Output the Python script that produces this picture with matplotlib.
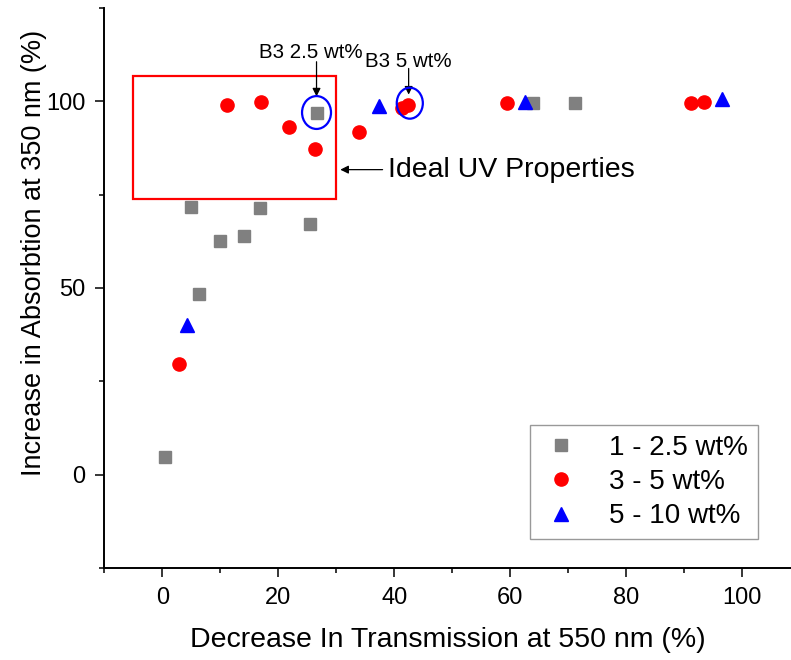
import matplotlib
matplotlib.use("Agg")
import matplotlib.pyplot as plt
from matplotlib.patches import Rectangle, Ellipse
from matplotlib.ticker import MultipleLocator

plt.rcParams["font.family"] = ["Liberation Sans", "DejaVu Sans"]

# 1 - 2.5 wt%
low_x = [0.4, 5.0, 6.3, 9.9, 14.0, 16.8, 25.4, 26.6, 64.0, 71.2]
low_y = [4.6, 71.8, 48.5, 62.7, 63.8, 71.5, 67.2, 96.9, 99.6, 99.6]

# 3 - 5 wt%
mid_x = [2.9, 11.1, 17.0, 21.9, 26.4, 34.0, 41.3, 42.4, 59.4, 91.2, 93.5]
mid_y = [29.7, 98.9, 99.8, 93.0, 87.3, 91.7, 98.3, 99.1, 99.6, 99.6, 99.9]

# 5 - 10 wt%
high_x = [4.2, 37.4, 62.6, 96.6]
high_y = [40.2, 98.8, 99.7, 100.5]

fig = plt.figure(figsize=(7.91, 6.6), dpi=100)
ax = fig.add_axes([0.1321, 0.1394, 0.8679, 0.8485])

ax.plot(low_x, low_y, "s", color="#808080", markersize=8.5, label="1 - 2.5 wt%", zorder=3)
ax.plot(mid_x, mid_y, "o", color="#ff0000", markersize=9.5, label="3 - 5 wt%", zorder=3)
ax.plot(high_x, high_y, "^", color="#0000ff", markersize=10, label="5 - 10 wt%", zorder=3)

# ideal region box
ax.add_patch(Rectangle((-5.1, 73.9), 35.1, 33.0, fill=False, edgecolor="#ff0000", linewidth=1.6, zorder=2))

# circles round the B3 samples
ax.add_patch(Ellipse((26.6, 97.0), 5.0, 8.8, fill=False, edgecolor="#0000ff", linewidth=1.6, zorder=4))
ax.add_patch(Ellipse((42.7, 99.5), 4.5, 8.3, fill=False, edgecolor="#0000ff", linewidth=1.6, zorder=4))

arrow = dict(arrowstyle="-|>", color="black", lw=0.9, mutation_scale=12, shrinkA=0, shrinkB=0)
ax.annotate("", xy=(26.6, 101.3), xytext=(26.6, 110.6), arrowprops=arrow)
ax.text(25.6, 113.0, "B3 2.5 wt%", fontsize=14.8, ha="center", va="center")
ax.annotate("", xy=(42.5, 101.8), xytext=(42.5, 108.8), arrowprops=arrow)
ax.text(42.5, 110.7, "B3 5 wt%", fontsize=14.8, ha="center", va="center")
ax.annotate("", xy=(30.7, 81.7), xytext=(38.0, 81.7), arrowprops=arrow)
ax.text(38.9, 81.7, "Ideal UV Properties", fontsize=20.5, ha="left", va="center")

ax.set_xlim(-10, 108.5)
ax.set_ylim(-25, 125)
ax.xaxis.set_major_locator(MultipleLocator(20))
ax.xaxis.set_minor_locator(MultipleLocator(10))
ax.yaxis.set_major_locator(MultipleLocator(50))
ax.yaxis.set_minor_locator(MultipleLocator(25))
ax.tick_params(which="major", direction="out", length=6.5, width=1.1, labelsize=17, pad=7)
ax.tick_params(which="minor", direction="out", length=3.6, width=1.1)

for side in ["top", "right"]:
    ax.spines[side].set_visible(False)
for side in ["left", "bottom"]:
    ax.spines[side].set_linewidth(1.4)

ax.set_xlabel("Decrease In Transmission at 550 nm (%)", fontsize=20.5, labelpad=13)
ax.set_ylabel("Increase in Absorbtion at 350 nm (%)", fontsize=19.5)
ax.yaxis.set_label_coords(-0.084, 0.5625)

leg = ax.legend(loc="lower right", bbox_to_anchor=(0.958, 0.1833), bbox_transform=fig.transFigure,
                fontsize=20, frameon=True, fancybox=False, edgecolor="#999999", framealpha=1,
                handletextpad=1.0, borderpad=0.35, labelspacing=0.3, borderaxespad=0,
                handlelength=1.5)
leg.get_frame().set_linewidth(1.0)

fig.savefig("out.png", dpi=100)
